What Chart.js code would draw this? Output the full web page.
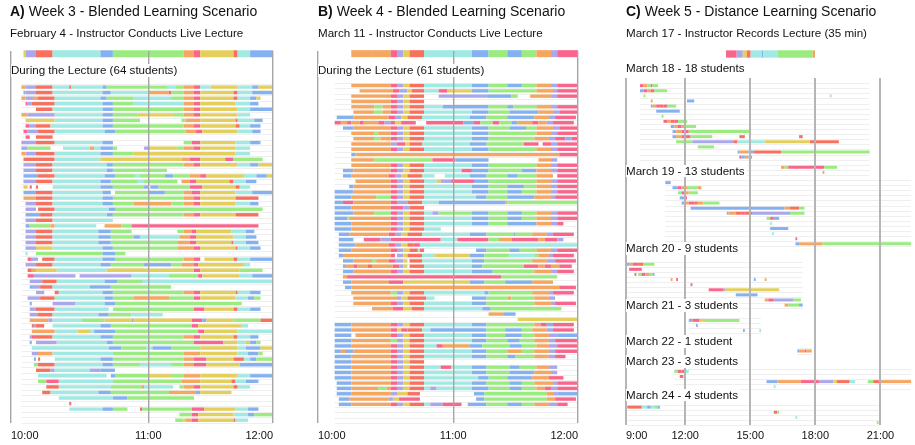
<!DOCTYPE html>
<html><head><meta charset="utf-8">
<script src="https://cdn.jsdelivr.net/npm/chart.js@4.4.0/dist/chart.umd.min.js"></script>
<style>
html,body{margin:0;padding:0;background:#fff;}
#wrap{position:relative;width:915px;height:445px;overflow:hidden;font-family:"Liberation Sans",Arial,Helvetica,sans-serif;color:#111;}
.cv{position:absolute;top:0;}
.t{position:absolute;white-space:nowrap;line-height:1.1;z-index:3;}
.title{font-size:14px;}
.sub{font-size:11.6px;}
.lab{font-size:11.6px;background:#fff;padding-right:2px;}
</style></head>
<body><div id="wrap">
<canvas id="cA" class="cv" style="left:0px" width="300" height="445"></canvas>
<canvas id="cB" class="cv" style="left:300px" width="300" height="445"></canvas>
<canvas id="cC" class="cv" style="left:610px" width="305" height="445"></canvas>
<canvas id="cCL" class="cv" style="left:726px;top:44px" width="89" height="20"></canvas>

<div class="t title" style="left:10px;top:4px"><b>A)</b> Week 3 - Blended Learning Scenario</div>
<div class="t sub" style="left:10px;top:27px">February 4 - Instructor Conducts Live Lecture</div>
<div class="t lab" style="left:11px;top:64px">During the Lecture (64 students)</div>

<div class="t title" style="left:318px;top:4px"><b>B)</b> Week 4 - Blended Learning Scenario</div>
<div class="t sub" style="left:318px;top:27px">March 11 - Instructor Conducts Live Lecture</div>
<div class="t lab" style="left:318px;top:64px">During the Lecture (61 students)</div>

<div class="t title" style="left:626px;top:4px"><b>C)</b> Week 5 - Distance Learning Scenario</div>
<div class="t sub" style="left:626px;top:27px">March 17 - Instructor Records Lecture (35 min)</div>
<div id="clabels"></div>
</div>
<script>
// ================= DATA =================
// colour codes: r red, c cyan, g green, b blue, o orange, p pink, y yellow, v violet, x grey
// Rows are run-length strings: "<count><code>", "." = no activity.
// Panels A and B: 1 unit = 1 minute, starting at 9:54 (unit 0 = -6 min from 10:00).
const lectureA = "6.y5v8r23c6b34g5o3p16y2r6c11b";
const rowsA = [
"5.2o5v8r8cr15c2b29g4c4g5o3p5c13y7c3b7y",
"6.b5v8r24c4b18c10op6g5o3p16y2r7c10b",
"5.2o4v2o8r22c3b13g18c6g5o3p16y2r6c3b2y6.",
"7.p2v11r23c5b10g24c5o3p17y7c4b7.",
"12.8r24c5b34g5o3p18y6c11b",
"5.3o13v23c5b12g17y5g5o3p18y6c11.",
"7.14y23c5b13g20.2g7o17yr8c4b5.",
"7.2p3v7r25c5b34g5o3p17y2r5c5b6.",
"6.2p5v8r24c5b34g5o3p17y7c4b6.",
"7.2p3.8r106.",
"5.7v9r23c5b34.4g4p17y7c5b6.",
"5.3v11g6.13c2o3c6b2g13.3v13y3g5o3p17y7c11.",
"5.2o5v9r22c6b10g49y7c11.",
"6.15r22c39y4o5p12y4p14g5.",
"6.6v8r26c3b34g5o3p18y6c4b7y",
"6.6v8r26c3b26g51.",
"6.7b8r24c5b10g2c12g4b8g5o3p18y6c5b3y",
"6.6v8r23c5b13g3c16g2.4o3p16y2r6c5b8.",
"6.2y.p2.r7.23c6b15g2b.4b15g6p16y2r5c11.",
"6.6b8r24c4b2.16g8b9g4o4p17y8c10b",
"6.6o8r24c5b34g5o3p17y11r7.",
"7.5v8r24c5b10g18o6g5o3p17y7c4b7.",
"7.5v.8r26c3b71g5.",
"7.7b6r26c3b34g5o3p17y11r7.",
"7.5v8r29c77.",
"7.2b10g2o20c4.8o5g61p7.",
"7.5v8r22c6b10g22.3g4o2p17y7c4b9.",
"7.5v8r22c6b11g3b19c5o3p18y6c5b8.",
"7.5v8r22c6b32g6o3p17yr6c6b7.",
"7.5v8y24c5b31g8o3p17yr6c5b6.",
"7.c4.32g6b5g71.",
"8.2p3v2.6r23c6b33g5o3p2.14y2r6c11b",
"7.5v8r23c5b16g13b5g6o2p22y3c11.",
"8.2r2o10y24c42y3p19y11g5.",
"8.3p20v2.25v18c14g2p18y6c10b",
"9.6v7r23c6b12g63c",
"9.2b3v6r18c10b29g49.",
"12.4v5.2r21c5b34g5o3p17yr6c5b6.",
"8.6v7r24c4b10g17o12g3p17y6c3b3g6.",
"9.b10.11v14c5b61g15.",
"9.3v9r26c2.39g5p14y2r6c5b6.",
"9.4v7r22c5b11g15c53.",
"9.9o2v14c11g13yb28y5p2b13y13g6r",
"10.rv4r4.23c5b39g3p21y3c12.",
"10.11o11c6y2c10b40g3p16y17c",
"9.v2p8r23c6b34g5o3p16y2r6c4b7.",
"9.b2.10v24c3b39g14p7y4c2y3b2g6.",
"10.37c6b12g3c9b14g18y4c7b6y",
"10.3v7o29c34g8o18y5c5b2g5.",
"11.b.r7.22c6b34g5o6p13y5r3c3b8g",
"11.2g8r23c5b13g15c6g5o6p16y16b",
"12.7r2v17c5v7b76.",
"13.33c2.2b16g11y6g8o18y6c11b",
"13.4g6p26c33g9o15y2r5c6b7.",
"17.6r25c15go14c3.2g5o3p16y2r6c11.",
"15.4r23c6b28g13o2b15y20.",
"23.26c7b32g38.",
"28.p97.",
"28.16c5b7g6.p24g6p15y6c5b7.",
"81.6g3p17y7c3b9g",
"79.4g1y3o3p17yr6c12."
];

const lectureB = "17.10o9o3p3v3y7r14c9c8b9g7b7g7o3v10p";
const rowsB = [
"17.19o3p3v3y7r23c8b9g7b7g7o3v10p",
"21.16o3p4v2y6r7c4p12y8b23g8o2v10p",
"17.19o3p3v3y7r7.23v12b3g6.10o3v10p",
"17.19o3p3v3y7r74.",
"17.11o4g4o3p3v3y7r9c22b9g3b11g7o3v10p",
"18.10o4g4o3p3v3y7r23c8b10g14b7o3v9p",
"10.8b17o3p3v3y7r23c8b10g13b7o3v10p",
"9.3p3o2p4o2p7o3p3v2p3y7p5.18p5b3p6g3p6g3b7o3p4o3v10p",
"13.5b18o3p3v3y7r23c8b10g8b5g8o3v9p",
"17.11o2g6o3p3v3y7r23c8b23g7o3v10p",
"18.10o3g5o3p3v3y7r23c8b22g7o3v5p3b3p",
"17.19o3v4p2y6r23c8b18g7p2.4p3v10p",
"17.19o3p3v3y7r23c8b23g7o3v10p",
"17.2b98o9p",
"17.11o28g11p16b24.6o3v10.",
"17.19o3p3v3y7r23c8b23g7o3v10p",
"13.5b18o3p3v3y7r18c5p8b16g7b7o3v10p",
"13.4b18o3p3v3y7r6c5.12c8b10g5b9g8o2.10p",
"19.17o3p3v3y7r6c2y5v11p7b23g7o3v10p",
"16.2b18o3p3v3y7r23c8b9g8b6g7o3v10p",
"9.9b18o3p3v3y7r23c8b9g7b7g7o3v10p",
"9.8b12o7g3p3v3y7r25c5b10g13b8o2v11p",
"9.4b5p18o3p5v7r8c32bo34g",
"9.8b19o6p3v7r74.",
"9.9b10o8g3p3v3y7r4c3v16g8b9g7b7g7o3v10p",
"9.6bg20o3p3v3y7r23c8b9g7b7g7o3v10p",
"9.8b19o3p3v3y7r23c8b9g14b7o3v3p7.",
"9.8b19o3p3v3y7r8c66.",
"11.5b19o3p3v3y7r23c8b13gb8g7o3v10p2.",
"11.7b5.8p5v24p8c15p5g6o13p3o6p3v7.",
"11.8b16o3p3v3y3r3p76c",
"11.6b19o3p3v3y4rc2r25.5b11g5b8g7o3v10p",
"11.2b23o2p.3v2y7r6c17y7b12g12c2g5o2v10p2.",
"13.5b9o2g6o3p4v2y.6r24c6b23g7o4v10p.",
"13.b4o2p5o2r10o3p2v2y.7r23c5b20g7p3o3p4o6p3.",
"13.5b18o3p3v3y7r23c10b20g8o3v8p2.",
"13.2o74p27g10.",
"13.4b18o7p32y7b10g13b10o12.",
"14.3b100o8p1.",
"17.19o3g3v3y7r29c2b21g8o2v10p2.",
"18.21o2v3y9r4c18.7b10g2o11g7o3v11.",
"18.18o3p3v3y7r23c7b23g8o2v10p.",
"27.10o5p4y6r28c4b34g8.",
"83.7o6b30.",
"97.29y",
"9.8b19o3p3v3y7r23c7b23g3o3p3b10p2.",
"9.8b19o3p2y3p7r4c27b9g8b5g7o3v10p2.",
"9.8b2.17o3p3v3y7r23c7b9g8b6g7o4v10b",
"9.8b19o3g3v3y7r23c7b10g6b7g7o3v11p",
"9.8b19o3p3v3y7r6c3p13o6b13g6b7g6o4v10p",
"9.3b2o4b18o3p3v3y7r23c7b10g7o6g7o3v11p",
"9.8b19o3p3v3y7r23c7b10g4b9g7o3v5p6.",
"9.8b19o3p3v3y7r74.",
"9.8b19o3p3v3y7r8c5p10c7b11g5b8g6o4v10.",
"9.8b19o3p3v3y7r23c7b11g12b8o3v10.",
"9.8b19o3p3v3y7r26c5b9g12b8o7p7.",
"10.7b19o3p3v3y7r23c7b11g6b6g9o2v10p",
"10.7b13o4g2o3p3v3y7r3c3v17c8b10g6b7g4o3p3v10p",
"10.7b19o3v5y6r26.5b30g3o2v10b",
"11.5b19o2v3y10p27.4b30g4o10p1.",
"11.6b19o3p3v3y7r3c6v9p3.9b10g7b6g7o4v5p5.",
"", "", ""
];

// Panel C: 1 unit = 5 minutes, starting at 9:00.
const lectureC = [[0,4.2,'p'],[4.2,6.6,'v'],[6.6,8.2,'y'],[8.2,9.7,'r'],[9.7,14.1,'c'],[14.1,14.7,'b'],[14.7,20.4,'c'],[20.4,34.1,'g'],[34.1,35,'o']]; // minutes of the 35-min video
const march18 = ["11.2p2o2gp3g","11.2b2p2o2p7g","13.g102.x","17.o19.4b","17.b2o2p2r2p5g","20.13b","23.g","24.2p2o2r2p5g","28.2b2o2p2o6g","29.2b3o4p34g","29.2b3o5p12g15.3r30.2r","31.9g23v2r15c25y16r","43.9g","65.b5o3b15r49g","66.p2b2o2b","","89.2o2g20p7g","112.o"];
const march19 = ["25.3b","29.3b2p3o6g2o","32.2g2p2o5g","33.2b2p","34.2b2o3p2r3o9g","39.52b3o5r3g","59.b4o3r2p4r21v8g","81.2g2r3b","83.c","83.10b","84.c","97.p","97.2b13o49g"];
const march20 = ["3.2b2o3p3r6g","5.7p","8.p.2g2p2o2gb","28.o2.p42.b5.o","39.p","49.8p1v30y","64.12b","80.2o3p11v4g","91.2o6g2b"];
const march21 = ["38.2b2r2p3y19g","42.v","68.b8.c"];
const march22 = ["98.b3o1p3o"];
const march23 = ["30.2g2p2r2c","33.2r","81.6b13o10p8v2y7r3c7.3g4r17o","85.c"];
const march24 = ["4.8r3c2b2c2g1b","85.2r1g","97.c","142.g"];
const dayLabelsC = ["March 18 - 18 students","March 19 - 13 students","March 20 - 9 students","March 21 - 3 students","March 22 - 1 student","March 23 - 3 students","March 24 - 4 students"];

const ticksA = [-6, 60, 120], tickLabelsA = ["10:00","11:00","12:00"];
const ticksB = [-5, 60, 120], tickLabelsB = ["10:00","11:00","12:00"];
const ticksC = [9.273, 12, 15, 18, 21, 22.409], tickLabelsC = ["9:00","12:00","15:00","18:00","21:00",""];

// ================= STYLE / LAYOUT =================
const COLORS = {r:'#F8715F', c:'#A1E9E3', g:'#9AEB80', b:'#85B2EE', o:'#F5A660', p:'#F9668C', y:'#E4CF5D', v:'#AAA7EA', x:'#CFCFCF'};
const FONT = '"Liberation Sans", Arial, Helvetica, sans-serif';

function parseRow(str, origin, unit) {
  const segs = []; let pos = 0; const re = /(\d*)([a-z.])/g; let m;
  while ((m = re.exec(str))) {
    const n = m[1] ? parseInt(m[1], 10) : 1;
    if (m[2] !== '.') segs.push({s: origin + pos * unit, e: origin + (pos + n) * unit, c: m[2]});
    pos += n;
  }
  return segs;
}

function makeRowLines(groups) {
  return {
    id: 'rowLines',
    beforeDatasetsDraw(chart) {
      const {ctx, chartArea, scales: {x, y}} = chart;
      const step = Math.abs(y.getPixelForValue(1) - y.getPixelForValue(0));
      ctx.save(); ctx.strokeStyle = '#efefef'; ctx.lineWidth = 1;
      groups.forEach(g => {
        const x0 = Math.max(chartArea.left, x.getPixelForValue(g.xMin));
        const x1 = Math.min(chartArea.right, x.getPixelForValue(g.xMax));
        ctx.beginPath();
        for (let i = g.first; i <= g.last + 1; i++) {
          const yy = Math.round(y.getPixelForValue(i) - step / 2) + 0.5;
          ctx.moveTo(x0, yy); ctx.lineTo(x1, yy);
        }
        ctx.stroke();
      });
      ctx.restore();
    }
  };
}

function segDataset(entries, ratio) {
  const data = [], colors = [];
  entries.forEach(en => en.segs.forEach(s => { data.push({x: [s.s, s.e], y: 'k' + en.cat}); colors.push(COLORS[s.c]); }));
  return {data, backgroundColor: colors, borderWidth: 0, grouped: false, barPercentage: ratio, categoryPercentage: 1, clip: false};
}

function timeline(id, o) {
  const labels = []; for (let i = 0; i < o.nCats; i++) labels.push('k' + i);
  const datasets = o.datasets;
  return new Chart(document.getElementById(id), {
    type: 'bar',
    data: {labels, datasets},
    options: {
      responsive: false, animation: false, events: [], indexAxis: 'y',
      layout: {padding: {left: o.pad[0], right: o.pad[1], top: o.pad[2], bottom: 0}},
      plugins: {legend: {display: false}, tooltip: {enabled: false}},
      scales: {
        x: {type: 'linear', min: o.xMin, max: o.xMax, position: 'bottom',
            afterBuildTicks: ax => { ax.ticks = o.ticks.map(v => ({value: v})); },
            afterFit: ax => { ax.height = o.axisH; },
            grid: {z: 1, drawTicks: false, lineWidth: o.gridW, color: ctx => (o.hideLast && ctx.index === o.ticks.length - 1) ? 'rgba(0,0,0,0)' : o.gridC},
            border: {display: false},
            ticks: {autoSkip: false, maxRotation: 0, align: 'inner', padding: o.tickPad, color: '#111', font: {family: FONT, size: 11}, callback: (v, i) => o.tickLabels[i]}},
        y: {type: 'category', labels, display: false, offset: true, grid: {display: false}}
      }
    },
    plugins: [makeRowLines(o.groups)]
  });
}

function extent(entries) {
  let a = Infinity, b = -Infinity;
  entries.forEach(en => en.segs.forEach(s => { a = Math.min(a, s.s); b = Math.max(b, s.e); }));
  return [a, b];
}

// ---- Panels A and B ----
function lecturePanel(id, lecture, rows, ticks, tickLabels, xMin, pad) {
  const gap = 5, start = 1 + gap;
  const entries = rows.map((r, i) => ({cat: start + i, segs: parseRow(r, -6, 1)}));
  const lec = [{cat: 0, segs: parseRow(lecture, -6, 1)}];
  const nCats = start + rows.length;
  const step = 372 / nCats;
  const [a, b] = extent(entries);
  timeline(id, {
    nCats, xMin, xMax: 120, ticks, tickLabels, pad, axisH: 22, tickPad: 6, gridW: 1.4, gridC: '#a6a6a6',
    datasets: [segDataset(lec, 7 / step), segDataset(entries, 3.4 / step)],
    groups: [{first: start, last: nCats - 1, xMin: a, xMax: b}]
  });
}
lecturePanel('cA', lectureA, rowsA, ticksA, tickLabelsA, -6, [11, 27, 51]);
lecturePanel('cB', lectureB, rowsB, ticksB, tickLabelsB, -5, [18, 22, 51]);

// ---- Panel C ----
(function () {
  const days = [march18, march19, march20, march21, march22, march23, march24];
  const gapsBefore = [1, 1, 3, 2, 3, 3, 3];
  const labelTops = [62, 164.5, 242, 299, 335, 355, 388.5];
  let cat = 0; const entries = [], groups = [];
  days.forEach((rows, d) => {
    cat += gapsBefore[d];
    const first = cat;
    const ents = rows.map(r => ({cat: cat++, segs: parseRow(r, 9, 1 / 12)}));
    entries.push(...ents);
    const [a, b] = extent(ents);
    groups.push({first, last: cat - 1, xMin: a, xMax: b});
  });
  const nCats = cat;
  const step = 347 / nCats;
  timeline('cC', {
    nCats, xMin: ticksC[0], xMax: ticksC[ticksC.length - 1], ticks: ticksC, tickLabels: tickLabelsC, hideLast: true,
    pad: [16, 0, 78], axisH: 20, tickPad: 4, gridW: 2, gridC: '#b5b5b5',
    datasets: [segDataset(entries, 3 / step)], groups
  });
  const holder = document.getElementById('clabels');
  dayLabelsC.forEach((t, i) => {
    const d = document.createElement('div');
    d.className = 't lab'; d.style.left = '626px'; d.style.top = labelTops[i] + 'px'; d.textContent = t;
    holder.appendChild(d);
  });
  // recorded lecture strip (video minutes 0-35)
  new Chart(document.getElementById('cCL'), {
    type: 'bar',
    data: {labels: ['lec'], datasets: [{
      data: lectureC.map(s => ({x: [s[0], s[1]], y: 'lec'})),
      backgroundColor: lectureC.map(s => COLORS[s[2]]), borderWidth: 0, grouped: false,
      barPercentage: 7.3 / 20, categoryPercentage: 1}]},
    options: {responsive: false, animation: false, events: [], indexAxis: 'y',
      plugins: {legend: {display: false}, tooltip: {enabled: false}},
      scales: {x: {type: 'linear', min: 0, max: 35, display: false}, y: {type: 'category', display: false}}}
  });
})();
</script>
</body></html>
